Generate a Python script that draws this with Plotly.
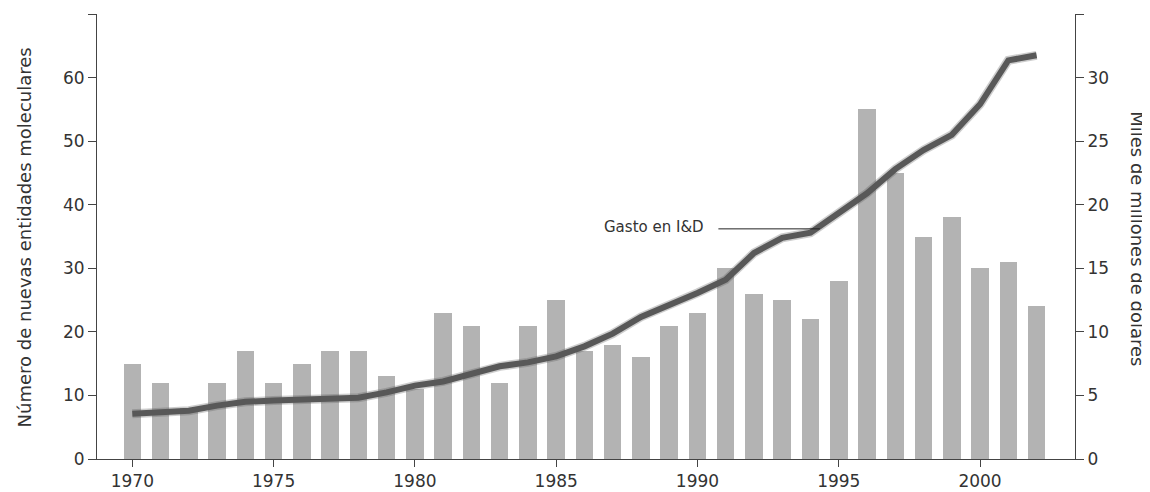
import plotly.graph_objects as go

years = list(range(1970, 2003))
nme_counts = [15, 12, 8, 12, 17, 12, 15, 17, 17, 13, 11, 23, 21, 12, 21, 25, 17, 18, 16, 21, 23, 30,
              26, 25, 22, 28, 55, 45, 35, 38, 30, 31, 24]
rd_spending = [3.55, 3.65, 3.8, 4.2, 4.5, 4.6, 4.67, 4.72, 4.82, 5.24, 5.77, 6.1, 6.71, 7.29, 7.6, 8.07,
               8.86, 9.86, 11.17, 12.06, 13.06, 14.1, 16.2, 17.4, 17.8, 19.35, 20.9, 22.8, 24.3, 25.5,
               27.9, 31.35, 31.75]
x_ticks = [1970, 1975, 1980, 1985, 1990, 1995, 2000]
left_ticks = [0, 10, 20, 30, 40, 50, 60, 70]
left_labels = ["0", "10", "20", "30", "40", "50", "60", ""]
right_ticks = [0, 5, 10, 15, 20, 25, 30, 35]
right_labels = ["0", "5", "10", "15", "20", "25", "30", ""]

left_title = "Número de nuevas entidades moleculares"
right_title = "Miles de millones de dólares"
line_label = "Gasto en I&D"

FONT = "DejaVu Sans"
AX = "#444444"
TXT = "#333333"

fig = go.Figure()
fig.add_trace(go.Bar(x=years, y=nme_counts, width=0.62, marker=dict(color="#b3b3b3", line=dict(width=0)),
                     yaxis="y", showlegend=False, hoverinfo="skip"))
# soft halo for blurred look
fig.add_trace(go.Scatter(x=years, y=rd_spending, yaxis="y2", mode="lines",
                         line=dict(color="rgba(90,90,90,0.3)", width=9), showlegend=False, hoverinfo="skip"))
fig.add_trace(go.Scatter(x=years, y=rd_spending, yaxis="y2", mode="lines",
                         line=dict(color="#585858", width=6), showlegend=False, hoverinfo="skip"))

tick_font = dict(size=17, color=TXT, family=FONT)
fig.update_layout(
    width=1150, height=492,
    margin=dict(l=89, r=83, t=6, b=41, autoexpand=False),
    paper_bgcolor="white", plot_bgcolor="white",
    font=dict(family=FONT, size=16, color=TXT),
    bargap=0,
    xaxis=dict(range=[1968.75, 2003.36], tickvals=x_ticks, ticks="outside", ticklen=7, tickcolor=AX,
               showline=True, linecolor=AX, linewidth=1, showgrid=False, zeroline=False,
               automargin=False, tickfont=tick_font),
    yaxis=dict(range=[0, 70], tickvals=left_ticks, ticktext=left_labels, ticks="outside", ticklen=8,
               tickcolor=AX, showline=True, linecolor=AX, linewidth=1, showgrid=False, zeroline=False,
               automargin=False, tickfont=tick_font),
    yaxis2=dict(range=[0, 35], tickvals=right_ticks, ticktext=right_labels, ticks="outside", ticklen=8,
                tickcolor=AX, showline=True, linecolor=AX, linewidth=1, showgrid=False, zeroline=False,
                automargin=False, overlaying="y", side="right", tickfont=tick_font),
)

fig.add_annotation(text=left_title, xref="paper", yref="paper", x=-0.0746, y=0.498, xanchor="center",
                   yanchor="middle", textangle=-90, showarrow=False, font=dict(size=18, color=TXT, family=FONT))
fig.add_annotation(text=right_title, xref="paper", yref="paper", x=1.0644, y=0.494, xanchor="center",
                   yanchor="middle", textangle=90, showarrow=False, font=dict(size=18, color=TXT, family=FONT))
fig.add_annotation(text=line_label, xref="x", yref="y2", x=1990.3, y=18.25, xanchor="right",
                   yanchor="middle", showarrow=False, font=dict(size=15, color=TXT, family=FONT))
fig.add_shape(type="line", xref="x", yref="y2", x0=1990.74, x1=1994.33, y0=18.1, y1=18.1,
              line=dict(color="#222222", width=1))

fig.write_html("out.html")
